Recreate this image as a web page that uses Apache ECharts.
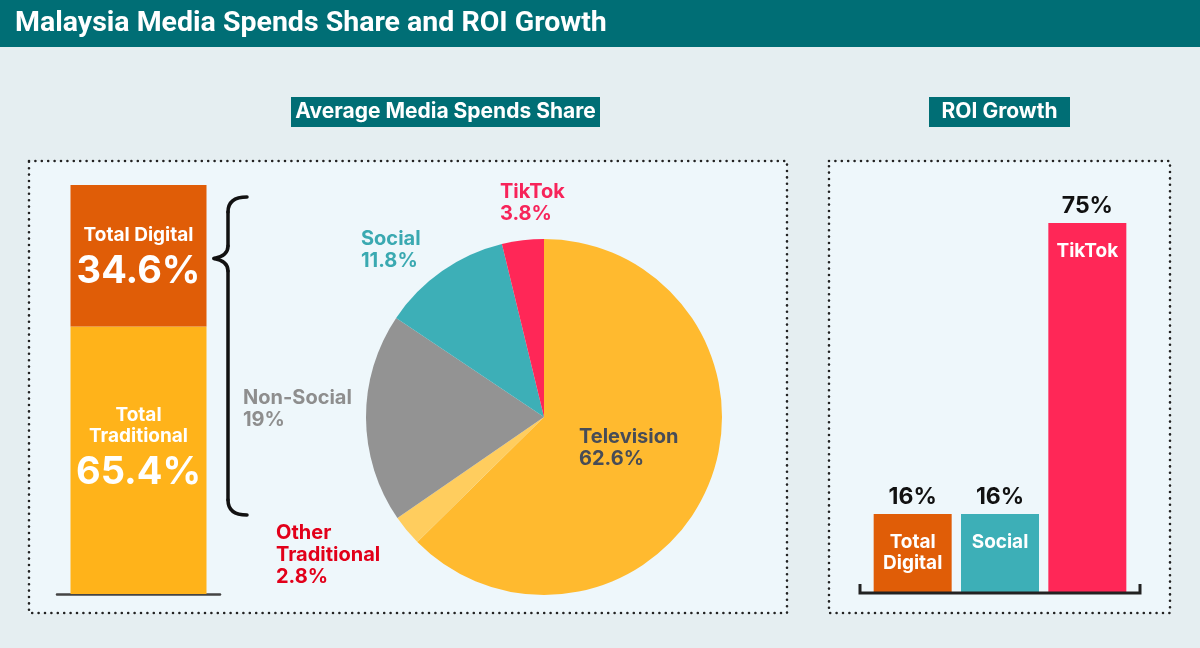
<!DOCTYPE html>
<html>
<head>
<meta charset="utf-8">
<script src="https://cdn.jsdelivr.net/npm/echarts@6/dist/echarts.min.js"></script>
<style>
  html, body { margin: 0; padding: 0; }
  #main { width: 1200px; height: 648px; }
</style>
</head>
<body>
<div id="main"></div>
<script>
// data
const spendCategories = ['Total Traditional', 'Total Digital'];
const spendShare = [65.4, 34.6];
const pieNames = ['Television', 'Other Traditional', 'Non-Social', 'Social', 'TikTok'];
const pieValues = [62.6, 2.8, 19, 11.8, 3.8];
const roiCategories = ['Total Digital', 'Social', 'TikTok'];
const roiGrowth = [16, 16, 75];

const TEAL = '#006e75';
const FONT = 'Inter, Roboto, sans-serif';
const TITLE_FONT = 'Roboto, sans-serif';
const spendColors = ['#ffb31a', '#e05d07'];
const pieColors = ['#ffba2f', '#ffcd5e', '#939393', '#3dafb7', '#ff2757'];
const pieLabelColors = ['#474c57', '#e2001a', '#8e8e8e', '#3aa9b1', '#f7245a'];
const roiColors = ['#e05d07', '#3dafb7', '#ff2757'];
// label anchor for pie texts (top-left)
const pieLabelPos = [[579, 426], [276, 522], [243, 387], [361, 228], [500, 181]];

const chart = echarts.init(document.getElementById('main'));

const breakName = n => n.replace(' ', '\n');

const braceStyle = { fill: 'none', stroke: '#111', lineWidth: 3.5, lineCap: 'round' };
const curve = (x1, y1, cx, cy, x2, y2) => ({ type: 'bezierCurve', shape: { x1, y1, cpx1: cx, cpy1: cy, x2, y2 }, style: braceStyle });
const seg = (x1, y1, x2, y2) => ({ type: 'line', shape: { x1, y1, x2, y2 }, style: braceStyle });

const option = {
  backgroundColor: '#e5eef1',
  textStyle: { fontFamily: FONT },
  animation: false,
  grid: [
    { left: 57, right: 980, top: 185, bottom: 54 },
    { left: 869, right: 69, top: 198.3, bottom: 55 }
  ],
  xAxis: [
    {
      type: 'category', gridIndex: 0, data: ['share'],
      axisLine: { lineStyle: { color: '#444', width: 2.5 } },
      axisTick: { show: false }, axisLabel: { show: false }
    },
    {
      type: 'category', gridIndex: 1, data: roiCategories,
      axisLine: { show: false }, axisTick: { show: false }, axisLabel: { show: false }
    }
  ],
  yAxis: [
    { type: 'value', gridIndex: 0, min: 0, max: 100, show: false },
    { type: 'value', gridIndex: 1, min: 0, max: 80, show: false }
  ],
  series: [
    ...spendCategories.map((name, i) => ({
      type: 'bar', name: name, stack: 'spend',
      xAxisIndex: 0, yAxisIndex: 0, barWidth: 136,
      data: [spendShare[i]],
      itemStyle: { color: spendColors[i] },
      label: {
        show: true, position: 'inside', color: '#fff',
        offset: i === 0 ? [0, -9] : [0, 5],
        formatter: p => '{t|' + (i === 0 ? breakName(name) : name) + '}\n{v|' + p.value + '%}',
        rich: {
          t: { fontSize: 19, fontWeight: 'bold', color: '#fff', lineHeight: 21, fontFamily: FONT },
          v: { fontSize: 38, fontWeight: 'bold', color: '#fff', lineHeight: 50, fontFamily: FONT }
        }
      }
    })),
    {
      type: 'pie', center: [544, 417], radius: 178,
      startAngle: 90, clockwise: true,
      data: pieNames.map((n, i) => ({
        name: n, value: pieValues[i],
        itemStyle: { color: pieColors[i] },
        label: { color: pieLabelColors[i] }
      })),
      label: {
        show: true, fontSize: 20, fontWeight: 'bold', lineHeight: 22,
        fontFamily: FONT,
        formatter: p => (p.name === 'Other Traditional' ? breakName(p.name) : p.name) + '\n' + p.value + '%'
      },
      labelLine: { show: false },
      labelLayout: p => ({
        x: pieLabelPos[p.dataIndex][0], y: pieLabelPos[p.dataIndex][1],
        align: 'left', verticalAlign: 'top'
      }),
      emphasis: { disabled: true }
    },
    {
      type: 'bar', name: 'ROI Growth', xAxisIndex: 1, yAxisIndex: 1,
      barWidth: 78,
      data: roiGrowth.map((v, i) => ({ value: v, itemStyle: { color: roiColors[i] } })),
      label: {
        show: true, position: 'top', distance: 5, color: '#111',
        fontSize: 23, fontWeight: 'bold', formatter: '{c}%'
      }
    },
    {
      type: 'bar', name: 'ROI names', xAxisIndex: 1, yAxisIndex: 1,
      barWidth: 78, barGap: '-100%',
      data: roiGrowth,
      itemStyle: { color: 'rgba(0,0,0,0)' },
      label: {
        show: true, position: 'insideTop', distance: 18, color: '#fff',
        fontSize: 19, fontWeight: 'bold', lineHeight: 21,
        formatter: p => breakName(p.name)
      }
    }
  ],
  graphic: [
    // header
    { type: 'rect', z: 0, shape: { x: 0, y: 0, width: 1200, height: 47 }, style: { fill: TEAL } },
    { type: 'text', z: 1, x: 15, y: 24, style: { text: 'Malaysia Media Spends Share and ROI Growth', fill: '#fff', font: 'bold 28.5px ' + TITLE_FONT, textVerticalAlign: 'middle' } },
    // section titles
    { type: 'rect', z: 0, shape: { x: 291, y: 97, width: 309, height: 30 }, style: { fill: TEAL } },
    { type: 'text', z: 1, x: 445.5, y: 112, style: { text: 'Average Media Spends Share', fill: '#fff', font: 'bold 21px ' + FONT, textAlign: 'center', textVerticalAlign: 'middle' } },
    { type: 'rect', z: 0, shape: { x: 929, y: 97, width: 141, height: 30 }, style: { fill: TEAL } },
    { type: 'text', z: 1, x: 999.5, y: 112, style: { text: 'ROI Growth', fill: '#fff', font: 'bold 21px ' + FONT, textAlign: 'center', textVerticalAlign: 'middle' } },
    // panels
    { type: 'rect', z: 0, shape: { x: 29, y: 161, width: 758, height: 452 }, style: { fill: '#eef7fb', stroke: '#222', lineWidth: 2.6, lineDash: [0, 6.4], lineCap: 'round' } },
    { type: 'rect', z: 0, shape: { x: 829, y: 161, width: 341, height: 452 }, style: { fill: '#eef7fb', stroke: '#222', lineWidth: 2.6, lineDash: [0, 6.4], lineCap: 'round' } },
    // brace
    {
      type: 'group', z: 5,
      children: [
        curve(247, 197, 228, 197, 228, 212),
        seg(228, 212, 228, 246),
        curve(228, 246, 228, 256, 214, 258.5),
        curve(214, 258.5, 228, 261, 228, 271),
        seg(228, 271, 228, 500),
        curve(228, 500, 228, 515, 247, 515)
      ]
    },
    // ROI bracket
    { type: 'polyline', z: 5, shape: { points: [[860, 584], [860, 593], [1140, 593], [1140, 584]] }, style: { fill: 'none', stroke: '#222', lineWidth: 3 } }
  ]
};

chart.setOption(option);
</script>
</body>
</html>
